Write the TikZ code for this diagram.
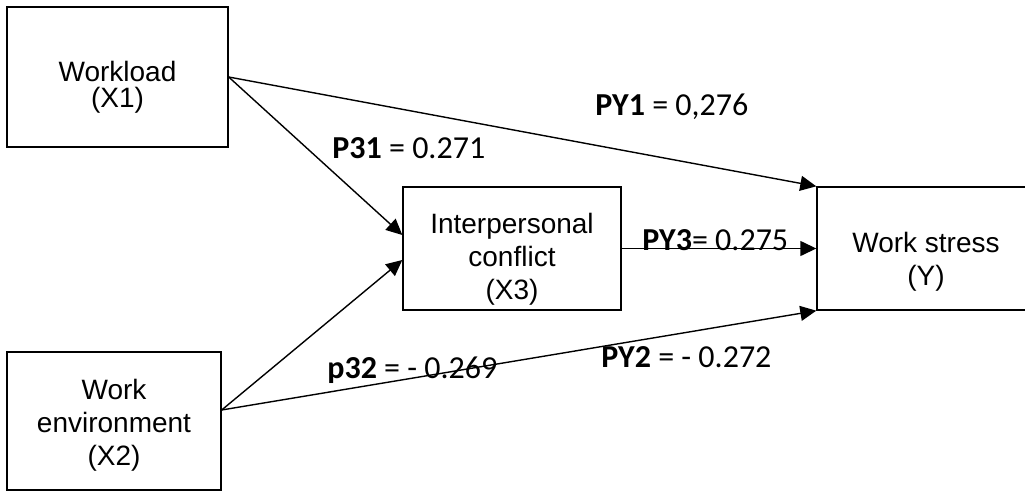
\documentclass[tikz,border=0pt]{standalone}
\usepackage{fontspec}
\setmainfont{Liberation Sans}
\newfontfamily\labfont{Carlito}
\usetikzlibrary{arrows.meta,positioning}
\newcommand{\topgap}[1]{\rule{0pt}{#1}}

\begin{document}
\begin{tikzpicture}[
			x=0.5pt,y=-0.5pt,
			box/.style={draw,line width=0.7pt,inner sep=2pt,align=center,font=\fontsize{14}{16.5}\selectfont},
			lab/.style={anchor=base west,inner sep=0pt,font=\labfont\fontsize{16}{19}\selectfont},
			arr/.style={line width=0.7pt,-{Triangle[length=8pt,width=7.5pt]}}
			]
			\useasboundingbox (0,0) rectangle (1025,493);
			\node[box,minimum width=110.5pt,minimum height=70pt,font=\fontsize{14}{13}\selectfont] (x1) at (117.5,77) {\topgap{20.5pt}Workload\\(X1)};
			\node[box,minimum width=107pt,minimum height=69pt] (x2) at (114,421) {\topgap{14.5pt}Work\\environment\\(X2)};
			\node[box,minimum width=109pt,minimum height=61.5pt] (x3) at (512,248.5) {\topgap{21pt}Interpersonal\\conflict\\(X3)};
			\node[box,minimum width=109pt,minimum height=61.5pt] (y) at (926,248.5) {\topgap{23pt}Work stress\\(Y)};
			% path coefficients
			\node[lab] (py1) at (595,115) {\textbf{PY1} = 0,276};
			\node[lab] (p31) at (332,158) {\textbf{P31} = 0.271};
			\node[lab] (py3) at (642,250) {\textbf{PY3}= 0.275};
			\node[lab] (p32) at (327,378) {\textbf{p32} = - 0.269};
			\node[lab] (py2) at (601,367) {\textbf{PY2} = - 0.272};
			\draw[arr] (x1.east) -- (y.north west);
			\draw[arr] (x1.east) -- ([yshift=6.75pt]x3.west);
			\draw[arr] ([yshift=5.5pt]x2.east) -- ([yshift=-5.75pt]x3.west);
			\draw[arr] ([yshift=5.5pt]x2.east) -- (y.south west);
			\draw[arr] (x3.east) -- (y.west);
		\end{tikzpicture}
\end{document}
